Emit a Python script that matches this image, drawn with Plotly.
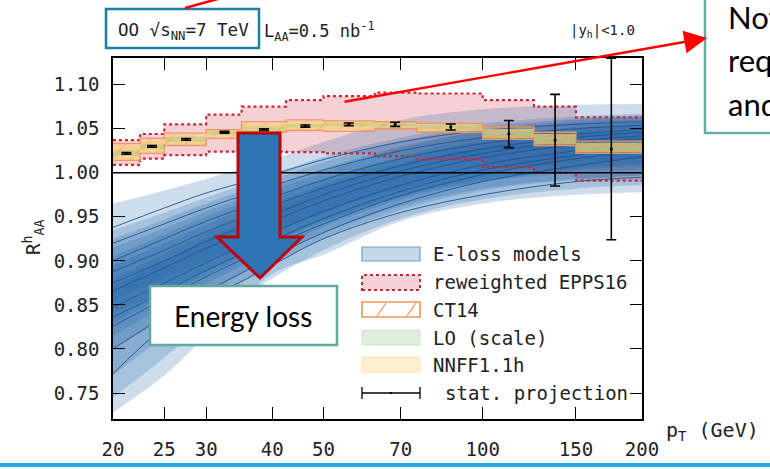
import math
import plotly.graph_objects as go

# ---------------- page geometry ----------------
W, H = 770, 469
ML, MR, MT, MB = 113, 128, 58, 50
PW, PH = W - ML - MR, H - MT - MB


def fx(p):
    return (p - ML) / PW


def fy(p):
    return (H - MB - p) / PH


MONO = "DejaVu Sans Mono"
SANS = "Lato"

# ---------------- data ----------------
pt_grid = [20, 25, 30, 40, 50, 70, 100, 150, 200]

eloss_b1_lo = [0.728, 0.770, 0.815, 0.885, 0.907, 0.945, 0.965, 0.975, 0.978]
eloss_b1_hi = [0.965, 0.980, 0.993, 1.015, 1.035, 1.060, 1.072, 1.077, 1.078]
eloss_b2_lo = [0.745, 0.790, 0.830, 0.880, 0.912, 0.948, 0.970, 0.982, 0.986]
eloss_b2_hi = [0.905, 0.930, 0.950, 0.980, 1.000, 1.028, 1.048, 1.060, 1.064]
eloss_b3_lo = [0.800, 0.835, 0.862, 0.905, 0.932, 0.962, 0.982, 0.993, 0.997]
eloss_b3_hi = [0.935, 0.955, 0.972, 0.998, 1.018, 1.040, 1.056, 1.064, 1.067]
eloss_b4_lo = [0.830, 0.860, 0.884, 0.920, 0.944, 0.972, 0.990, 1.000, 1.004]
eloss_b4_hi = [0.915, 0.937, 0.956, 0.984, 1.004, 1.030, 1.047, 1.057, 1.061]
eloss_b5_lo = [0.840, 0.866, 0.889, 0.922, 0.946, 0.974, 0.993, 1.005, 1.010]
eloss_b5_hi = [0.895, 0.920, 0.941, 0.971, 0.992, 1.019, 1.040, 1.052, 1.057]
eloss_b6_lo = [0.770, 0.815, 0.850, 0.895, 0.925, 0.958, 0.980, 0.992, 0.997]
eloss_b6_hi = [0.870, 0.900, 0.925, 0.958, 0.982, 1.010, 1.030, 1.043, 1.048]
eloss_b7_lo = [0.855, 0.880, 0.900, 0.932, 0.955, 0.982, 1.000, 1.012, 1.016]
eloss_b7_hi = [0.925, 0.947, 0.965, 0.992, 1.012, 1.036, 1.052, 1.061, 1.065]
eloss_b8_lo = [0.815, 0.848, 0.874, 0.912, 0.939, 0.969, 0.990, 1.003, 1.008]
eloss_b8_hi = [0.880, 0.908, 0.931, 0.964, 0.987, 1.015, 1.036, 1.048, 1.053]

eloss_l1 = [0.938, 0.960, 0.977, 0.998, 1.015, 1.035, 1.048, 1.055, 1.058]
eloss_l2 = [0.920, 0.942, 0.960, 0.985, 1.003, 1.025, 1.040, 1.050, 1.054]
eloss_l3 = [0.900, 0.925, 0.945, 0.972, 0.992, 1.016, 1.033, 1.044, 1.049]
eloss_l4 = [0.888, 0.912, 0.933, 0.962, 0.983, 1.008, 1.027, 1.040, 1.046]
eloss_l5 = [0.875, 0.900, 0.922, 0.952, 0.975, 1.002, 1.022, 1.036, 1.042]
eloss_l6 = [0.866, 0.892, 0.914, 0.945, 0.968, 0.996, 1.017, 1.032, 1.039]
eloss_l7 = [0.847, 0.875, 0.898, 0.932, 0.956, 0.986, 1.009, 1.025, 1.033]
eloss_l8 = [0.836, 0.865, 0.889, 0.923, 0.948, 0.979, 1.003, 1.020, 1.029]
eloss_l9 = [0.826, 0.857, 0.882, 0.917, 0.942, 0.974, 0.998, 1.016, 1.025]
eloss_l10 = [0.800, 0.837, 0.865, 0.904, 0.932, 0.965, 0.990, 1.008, 1.018]
eloss_l11 = [0.772, 0.825, 0.855, 0.895, 0.925, 0.955, 0.975, 0.990, 0.995]

bin_edges = [20, 22.5, 25, 30, 35, 42.5, 50, 62.5, 75, 100, 125, 150, 200]
epps_lo = [1.009, 1.016, 1.020, 1.024, 1.024, 1.0235, 1.022, 1.0186, 1.0152, 1.0064, 1.000, 0.991]
epps_hi = [1.037, 1.044, 1.055, 1.066, 1.075, 1.0825, 1.087, 1.091, 1.090, 1.0825, 1.075, 1.063]
ct14_lo = [1.014, 1.022, 1.031, 1.039, 1.046, 1.048, 1.047, 1.050, 1.046, 1.038, 1.031, 1.022]
ct14_hi = [1.033, 1.039, 1.045, 1.049, 1.058, 1.060, 1.059, 1.058, 1.056, 1.052, 1.046, 1.036]
lo_scale_lo = [1.019, 1.027, 1.035, 1.043, 1.047, 1.051, 1.053, 1.053, 1.050, 1.042, 1.035, 1.025]
lo_scale_hi = [1.026, 1.033, 1.041, 1.048, 1.052, 1.055, 1.057, 1.057, 1.054, 1.046, 1.039, 1.029]
nnff_lo = [1.015, 1.023, 1.032, 1.041, 1.047, 1.049, 1.049, 1.051, 1.047, 1.039, 1.032, 1.023]
nnff_hi = [1.031, 1.037, 1.043, 1.048, 1.056, 1.058, 1.058, 1.057, 1.055, 1.050, 1.044, 1.034]

stat_pt = [21.2, 23.7, 27.5, 32.5, 38.6, 46.2, 55.8, 68.3, 87.0, 112.0, 137.0, 175.0]
stat_val = [1.022, 1.030, 1.038, 1.046, 1.049, 1.053, 1.055, 1.055, 1.052, 1.044, 1.037, 1.027]
stat_err = [0.0010, 0.0010, 0.0010, 0.0010, 0.0010, 0.0012, 0.0015, 0.0023, 0.0034, 0.0154, 0.052, 0.103]

x_ticks = [20, 25, 30, 40, 50, 70, 100, 150, 200]
y_ticks = [0.75, 0.80, 0.85, 0.90, 0.95, 1.00, 1.05, 1.10]

legend_labels = ["E-loss models", "reweighted EPPS16", "CT14", "LO (scale)", "NNFF1.1h", "stat. projection"]

eloss_bands = [
    (eloss_b1_lo, eloss_b1_hi), (eloss_b2_lo, eloss_b2_hi), (eloss_b3_lo, eloss_b3_hi),
    (eloss_b4_lo, eloss_b4_hi), (eloss_b5_lo, eloss_b5_hi), (eloss_b6_lo, eloss_b6_hi),
    (eloss_b7_lo, eloss_b7_hi), (eloss_b8_lo, eloss_b8_hi),
]
eloss_lines = [eloss_l1, eloss_l2, eloss_l3, eloss_l4, eloss_l5, eloss_l6,
               eloss_l7, eloss_l8, eloss_l9, eloss_l10, eloss_l11]

# ---------------- colours ----------------
BLUE_FILL = "rgba(22,95,165,0.21)"
BLUE_LINE = "rgb(28,85,145)"
PINK_FILL = "rgba(226,112,126,0.33)"
RED_DOT = "rgb(200,40,60)"
ORANGE = "rgb(240,150,90)"
GREEN_FILL = "rgba(140,205,140,0.35)"
GOLD_FILL = "rgba(255,208,110,0.72)"

fig = go.Figure()


def step_y(vals):
    return list(vals) + [vals[-1]]


def add_step_band(lo, hi, fill, line_lo=None, line_hi=None, pattern=None, name=""):
    fig.add_trace(go.Scatter(x=bin_edges, y=step_y(lo), mode="lines", line_shape="hv",
                             line=line_lo or dict(width=0), showlegend=False,
                             hoverinfo="skip", name=name))
    kw = {}
    if pattern:
        kw["fillpattern"] = pattern
    fig.add_trace(go.Scatter(x=bin_edges, y=step_y(hi), mode="lines", line_shape="hv",
                             line=line_hi or dict(width=0), fill="tonexty",
                             fillcolor=fill, showlegend=False, hoverinfo="skip",
                             name=name, **kw))


# EPPS16 fill (under the E-loss bands)
add_step_band(epps_lo, epps_hi, PINK_FILL, name=legend_labels[1])

# E-loss model bands
for lo, hi in eloss_bands:
    fig.add_trace(go.Scatter(x=pt_grid, y=lo, mode="lines", line_shape="spline",
                             line=dict(width=0), showlegend=False, hoverinfo="skip"))
    fig.add_trace(go.Scatter(x=pt_grid, y=hi, mode="lines", line_shape="spline",
                             line=dict(width=0), fill="tonexty", fillcolor=BLUE_FILL,
                             showlegend=False, hoverinfo="skip", name=legend_labels[0]))
for ln in eloss_lines:
    fig.add_trace(go.Scatter(x=pt_grid, y=ln, mode="lines", line_shape="spline",
                             line=dict(width=0.9, color=BLUE_LINE), showlegend=False,
                             hoverinfo="skip"))

# EPPS16 dotted outline on top
for vals in (epps_lo, epps_hi):
    fig.add_trace(go.Scatter(x=bin_edges, y=step_y(vals), mode="lines", line_shape="hv",
                             line=dict(color=RED_DOT, width=2.2, dash="dot"),
                             showlegend=False, hoverinfo="skip"))

# NNFF, LO, CT14
add_step_band(nnff_lo, nnff_hi, GOLD_FILL, name=legend_labels[4])
add_step_band(lo_scale_lo, lo_scale_hi, GREEN_FILL, name=legend_labels[3])
add_step_band(ct14_lo, ct14_hi, "rgba(0,0,0,0)",
              line_lo=dict(color=ORANGE, width=1.3), line_hi=dict(color=ORANGE, width=1.3),
              pattern=dict(shape="/", fgcolor=ORANGE, bgcolor="rgba(0,0,0,0)",
                           size=14, solidity=0.08),
              name=legend_labels[2])

# statistical projection
fig.add_trace(go.Scatter(x=stat_pt, y=stat_val, mode="markers",
                         marker=dict(color="black", size=3),
                         error_y=dict(type="data", array=stat_err, color="black",
                                      thickness=1.6, width=5),
                         showlegend=False, name=legend_labels[5]))

# ---------------- axes ----------------
axis_common = dict(showline=True, linecolor="black", linewidth=1.5, mirror="allticks",
                   ticks="inside", ticklen=12, tickwidth=1.3, tickcolor="black",
                   showgrid=False, zeroline=False, automargin=False,
                   tickfont=dict(family=MONO, size=19, color="#222"))
fig.update_xaxes(type="log", range=[math.log10(20), math.log10(200)],
                 tickvals=x_ticks, ticktext=[str(v) for v in x_ticks],
                 ticklabelstandoff=12, **axis_common)
fig.update_yaxes(range=[0.7205, 1.1303], tickvals=y_ticks, tickformat=".2f",
                 ticklabelstandoff=8, **axis_common)

# ---------------- shapes ----------------
shapes = []
# unity line
shapes.append(dict(type="line", xref="paper", yref="y", x0=0, x1=1, y0=1.0, y1=1.0,
                   line=dict(color="black", width=1.5), layer="above"))


def rect(x0, y0, x1, y1, **kw):
    d = dict(type="rect", xref="paper", yref="paper",
             x0=fx(x0), x1=fx(x1), y0=fy(y1), y1=fy(y0), layer="above")
    d.update(kw)
    return d


def pline(x0, y0, x1, y1, **kw):
    d = dict(type="line", xref="paper", yref="paper",
             x0=fx(x0), x1=fx(x1), y0=fy(y0), y1=fy(y1), layer="above")
    d.update(kw)
    return d


# legend swatches
shapes.append(rect(362, 247, 420, 261, fillcolor="rgba(25,100,170,0.25)",
                   line=dict(color="rgb(110,160,200)", width=1.2)))
shapes.append(rect(362, 275, 420, 290, fillcolor="rgba(226,112,126,0.33)",
                   line=dict(color=RED_DOT, width=2, dash="dot")))
shapes.append(rect(362, 302, 420, 317, fillcolor="white",
                   line=dict(color=ORANGE, width=1.6)))
shapes.append(pline(377, 316, 386, 303, line=dict(color=ORANGE, width=1.3)))
shapes.append(pline(407, 316, 416, 303, line=dict(color=ORANGE, width=1.3)))
shapes.append(rect(362, 330, 420, 345, fillcolor="rgba(140,205,140,0.3)",
                   line=dict(color="rgb(205,230,205)", width=1)))
shapes.append(rect(362, 357, 420, 372, fillcolor="rgba(255,205,120,0.35)",
                   line=dict(color="rgb(255,222,175)", width=1)))
shapes.append(pline(362, 393, 420, 393, line=dict(color="black", width=1.3)))
shapes.append(pline(362, 387, 362, 399, line=dict(color="black", width=1.3)))
shapes.append(pline(420, 387, 420, 399, line=dict(color="black", width=1.3)))
shapes.append(rect(390, 392, 392, 394, fillcolor="black", line=dict(width=0)))

# slide decorations
shapes.append(rect(106, 9, 259, 48, line=dict(color="rgb(30,125,165)", width=2.5)))
shapes.append(pline(185, 8, 225, -3, line=dict(color="red", width=2.5)))
shapes.append(rect(705, -10, 800, 133, fillcolor="white",
                   line=dict(color="rgb(105,170,165)", width=2.5)))
arrow_pts = [(238, 133), (280, 133), (280, 237), (302, 237), (260, 278), (217, 237), (238, 237)]
path = "M " + " L ".join(f"{fx(a):.5f},{fy(b):.5f}" for a, b in arrow_pts) + " Z"
shapes.append(dict(type="path", xref="paper", yref="paper", path=path, layer="above",
                   fillcolor="rgb(46,117,182)", line=dict(color="rgb(192,0,0)", width=3)))
shapes.append(rect(150, 286, 337, 345, fillcolor="white",
                   line=dict(color="rgb(98,168,160)", width=2.5)))
shapes.append(dict(type="rect", xref="paper", yref="paper", x0=fx(-5), x1=fx(780),
                   y0=fy(467), y1=fy(463), fillcolor="rgb(35,170,225)",
                   line=dict(width=0), layer="above"))

# ---------------- annotations ----------------
ann = []


def text(x, y, s, size=19, family=MONO, xanchor="left", color="#222", **kw):
    d = dict(x=fx(x), y=fy(y), xref="paper", yref="paper", text=s, showarrow=False,
             xanchor=xanchor, yanchor="middle", font=dict(family=family, size=size, color=color))
    d.update(kw)
    ann.append(d)


leg_y = [254, 282, 310, 338, 365, 393]
for i, lab in enumerate(legend_labels):
    text(443 if i == 5 else 431, leg_y[i], lab)

text(33, 238, "R<sup>h</sup><sub>AA</sub>", textangle=-90, xanchor="center")
text(664, 431, "p<sub>T</sub> (GeV)", size=20)
text(116, 31, "OO √s<sub>NN</sub>=7 TeV", size=17.5)
text(262, 31, "L<sub>AA</sub>=0.5 nb<sup>-1</sup>", size=17)
text(637, 31, "|y<sub>h</sub>|&lt;1.0", size=14, xanchor="right")

text(243, 316, "Energy loss", size=28, family=SANS, xanchor="center", color="black")
text(726, 17, "Not", size=31, family=SANS, color="black")
text(726, 60, "required", size=31, family=SANS, color="black")
text(726, 104, "and", size=31, family=SANS, color="black")

# red arrow
ann.append(dict(x=fx(707), y=fy(38), xref="paper", yref="paper", text="",
                showarrow=True, arrowhead=2, arrowsize=1.9, arrowwidth=2.4,
                arrowcolor="red", ax=343 - 707, ay=102 - 38))

fig.update_layout(
    width=W, height=H, autosize=False,
    margin=dict(l=ML, r=MR, t=MT, b=MB, pad=0),
    paper_bgcolor="white", plot_bgcolor="white",
    showlegend=False, shapes=shapes, annotations=ann,
)

fig.write_html("out.html")
